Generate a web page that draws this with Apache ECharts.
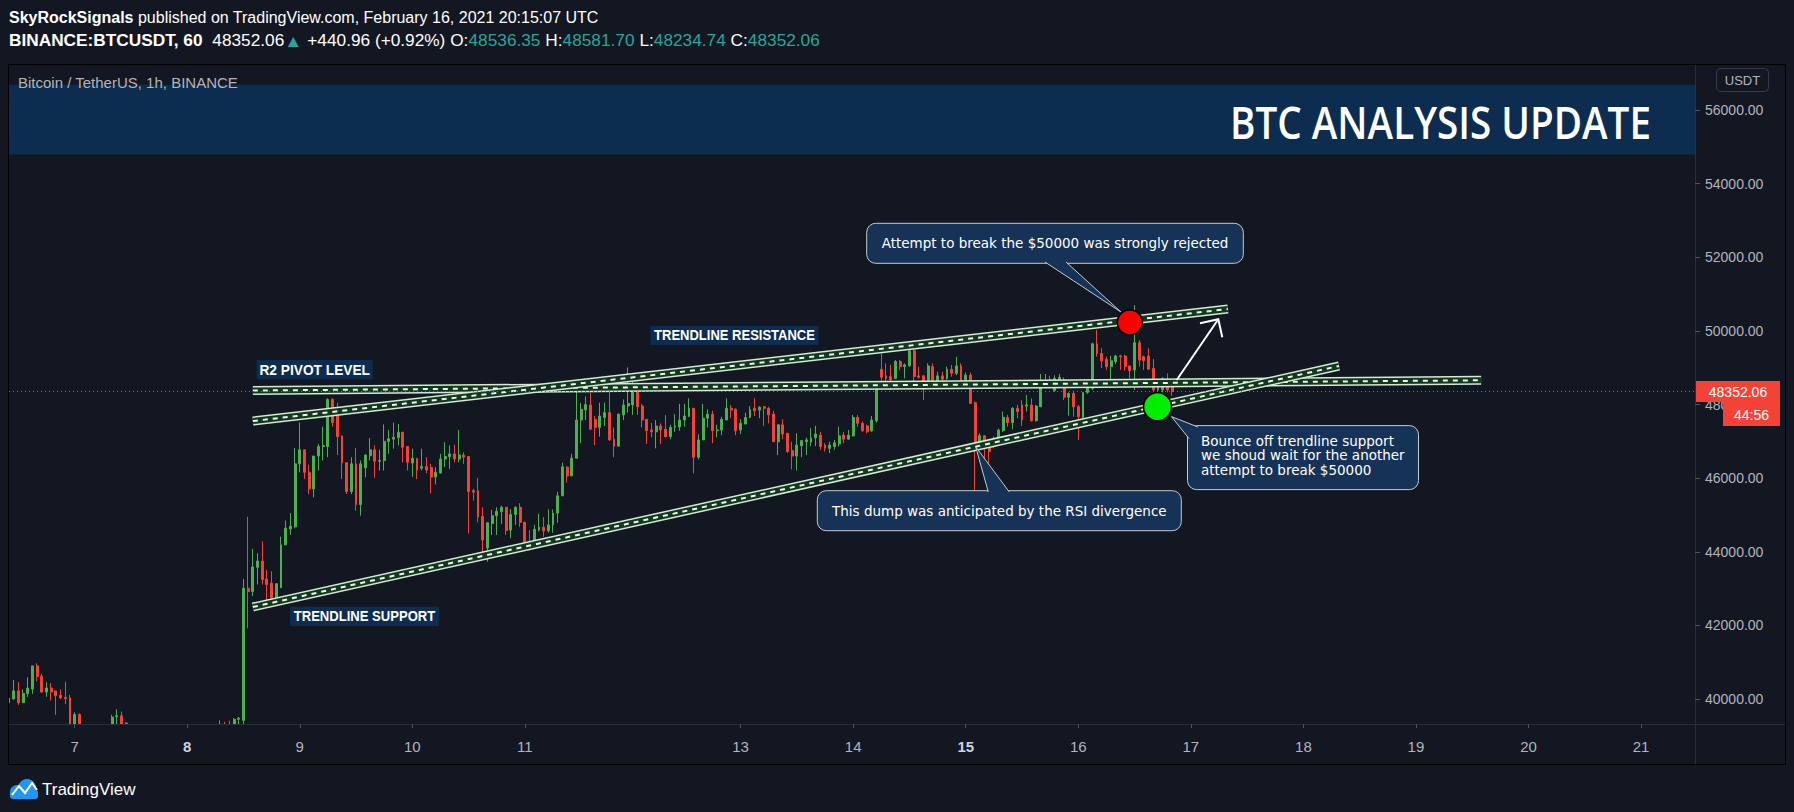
<!DOCTYPE html>
<html><head><meta charset="utf-8">
<script src="https://cdn.jsdelivr.net/npm/echarts@6/dist/echarts.min.js"></script>
<style>html,body{margin:0;padding:0;background:#131722;}#c{width:1794px;height:812px;}</style>
</head><body><div id="c"></div>
<script>
// ---------- DATA ----------
const firstBar = -14; // bar index of first candle (Feb 6 10:00 UTC), bar 0 = Feb 7 00:00
const opens = [
39900,40000,40220,39900,40150,40270,40900,40620,40190,40300,40220,40100,40045,40030,
39200,39580,39150,38900,38700,38850,38600,38900,39150,39520,
39545,39350,38950,38400,37700,38100,38300,38100,38500,38700,
38550,38900,38800,39000,38850,38400,38100,38350,38250,38500,
38700,38900,39100,38950,38850,39450,39420,43010,42920,43580,
43750,43260,43150,42750,43020,44190,44620,44680,46390,46770,
46160,45710,46600,46860,46860,48140,47760,47150,46420,45640,
46390,45280,46280,46610,46770,46460,46480,47000,47060,47100,
47250,46860,46410,46540,46270,46320,46290,46030,46140,46520,
46580,46660,46520,46630,46590,45660,45660,44960,44100,44770,
44980,45090,45210,44590,45010,45210,44800,44270,44260,44590,
44670,44570,44730,45050,45520,46300,46060,46540,47580,47860,
47990,47600,47380,47650,47780,47060,46870,47720,47960,47990,
48500,47960,47600,47310,47260,47420,47330,47130,47390,47390,
47580,47680,47900,46570,47040,47630,47740,47290,47310,47580,
47900,47870,47310,47470,47650,47900,47850,47940,47900,47740,
46990,47450,47220,46750,46600,46880,46990,46980,47100,47170,
46900,46810,46860,46930,47170,47060,47150,47650,47490,47420,
47290,47560,48960,48780,48760,48710,49170,49030,49050,49460,
48780,48780,48560,49030,48620,48780,48710,48960,48850,49050,
48580,48800,48050,46950,47150,46900,46860,47060,47290,47650,
47510,47900,47990,47960,47990,47560,47940,48500,48670,48380,
48620,48670,48200,48300,47940,47650,48330,48440,49650,49390,
49230,49030,49170,49320,49320,49050,48940,49680,49300,49320,
48980,48400,48400,48580,48536.35];
const closes = [
40020,40220,39900,40150,40300,40900,40610,40190,40300,40190,40090,40030,40010,39200,
39580,39150,38900,38700,38850,38600,38900,39150,39510,39545,
39200,38950,38400,37700,38100,38300,38100,38500,38700,38550,
38900,38800,39000,38850,38400,38100,38350,38250,38500,38700,
38900,39100,38950,38850,39450,39480,43010,42920,43590,43750,
43250,43110,42750,43130,44190,44640,44700,46390,46770,46160,
45710,46600,46860,46880,48140,47510,47130,46420,45640,46390,
45280,46390,46630,46770,46460,46480,47000,47070,47110,47250,
46840,46430,46540,46220,46320,46220,46030,46160,46520,46590,
46660,46520,46630,46570,45640,45620,44940,44320,44790,44980,
45100,45210,44580,45010,45210,44800,44210,44210,44610,44670,
44570,44730,45050,45520,46310,46060,46540,47580,47870,48000,
47330,47380,47690,47780,47040,46870,47740,47990,48030,48500,
47940,47580,47290,47260,47420,47310,47130,47380,47420,47580,
47690,47900,46570,47040,47630,47740,47290,47310,47600,47900,
47850,47290,47490,47650,47870,47830,47930,47900,47720,46990,
47450,47200,46720,46600,46900,47020,47040,47100,47200,46860,
46810,46900,46960,47150,47060,47170,47650,47490,47290,47260,
47580,48470,48740,48710,48670,49170,49030,49080,49460,48760,
48740,48560,49050,48620,48780,48690,48960,48850,49050,48580,
48800,48030,46950,47150,46860,46720,47080,47310,47650,47510,
47900,47810,47580,47990,47560,47960,48530,48620,48580,48710,
48740,48200,48300,47940,47670,48330,48490,49650,49390,49190,
49030,49190,49320,49300,49030,48920,49680,49210,49190,48960,
48400,48480,48710,48400,48352.06];
const lows = [
39520,39990,39840,39900,40060,40140,40480,40170,40060,39960,39570,40000,39860,39100,
39050,39000,38750,38550,38600,38450,38500,38800,39050,39150,
39050,38800,38200,37350,37500,37900,37900,38000,38350,38400,
38500,38600,38650,38700,38250,37950,38000,38100,38150,38400,
38600,38800,38850,38700,38800,39100,39200,41920,42800,43110,
43110,42610,42610,42730,43020,44180,44460,44640,46160,45980,
45570,45480,46210,46480,46570,47400,46630,45980,45570,45570,
45120,44980,46020,46480,46010,46210,46210,46660,46800,46890,
46430,46210,46040,45980,46210,46130,45590,45830,46130,46300,
46250,46430,46430,46390,44500,45390,44800,43800,43730,44460,
44460,44760,44460,44370,44730,44680,44030,44030,44230,44550,
44410,44520,44520,44790,45520,45880,46060,46540,46950,47580,
47330,46900,47130,47420,47020,46570,46870,47580,47780,47720,
47720,47380,46930,47110,46810,46930,47110,47060,47260,47290,
47400,47660,46130,46510,47040,47380,46950,47110,47170,47580,
47630,47170,47200,47470,47630,47690,47630,47420,47490,46990,
46630,47060,46690,46240,46210,46570,46630,46870,46870,46770,
46720,46680,46770,46860,46950,47040,47130,47400,47260,47220,
47260,47510,48470,48440,48400,48710,48930,48710,49030,48580,
48710,48120,48530,48580,48580,48580,48670,48760,48800,48490,
48440,48030,45590,46860,46130,46400,46810,46990,47260,47400,
47330,47630,47420,47810,47540,47540,47930,48470,48440,48350,
48580,48120,47700,47670,47040,47620,48290,48400,49300,48990,
48940,48670,49100,48940,48920,48710,48400,49030,48940,48940,
48290,48290,48330,48330,48234.74];
const highs = [
40070,40520,40460,40260,40590,40900,40970,40680,40460,40430,40220,40260,40470,40110,
39640,39610,39250,39050,39000,38950,39050,39280,39570,39720,
39660,39370,39000,38500,38300,38500,38450,38650,38900,38850,
39050,39100,39200,39150,38950,38500,38500,38550,38700,38900,
39100,39420,39380,39410,39480,39510,43260,44950,44080,43960,
44280,43510,43470,43150,44410,44850,45050,46820,47510,46780,
46370,46610,46930,47400,48170,48170,48050,47150,46430,46570,
46820,46480,46640,47090,46890,46770,47460,47310,47510,47470,
47250,46860,46800,46540,46800,46570,46390,46300,46660,46980,
46890,46910,47310,46700,46590,45710,46010,45210,44790,45140,
45210,45250,45210,45160,45230,45320,44820,44590,44730,45030,
44940,45150,45150,45630,46420,46330,46660,48420,48040,48220,
48320,47690,48050,48050,48670,47380,47750,48140,49010,48620,
48510,48020,47600,47500,47580,47490,47720,47450,47740,48020,
48020,48170,47900,47190,48020,47870,47830,47450,47670,48170,
47990,47900,47600,47780,47960,48170,47960,47960,47940,47830,
47450,47600,47220,46990,47220,47020,47100,47360,47420,47260,
46950,46990,47040,47400,47260,47310,47720,47720,47540,47450,
47690,48470,49390,49120,49080,49210,49210,49120,49710,49660,
49030,48800,49120,49120,48890,48890,49030,49080,49300,49120,
48870,48870,48080,47220,47170,46990,47130,47350,47810,47720,
47930,47990,48120,48260,48170,47990,48830,48830,48780,48800,
48830,48740,48330,48380,47990,48330,48670,49680,50030,49530,
49300,49320,49350,49350,49350,49060,50700,49750,49330,49530,
49240,48600,48740,48850,48581.70];

const lastPrice = 48352.06;
const priceChange = '+440.96', priceChangePct = '+0.92%';
const priceTicks = [40000,42000,44000,46000,48000,50000,52000,54000,56000];
const dayStartBars = [0,24,48,72,96,142,166,190,214,238,262,286,310,334];
const dayLabels = ['7','8','9','10','11','13','14','15','16','17','18','19','20','21'];
const weekStartLabels = ['8','15'];
// drawings: [bar index, price]
const trendResistance = [[38,47553],[245.9,50596]];
const trendSupport = [[38,42500],[269.6,49048]];
const r2Pivot = [[38,48382],[299.9,48660]];
const bannerRange = [54794,56691];
const rejectPoint = [225.0,50235];
const bouncePoint = [230.9,47942];
const xRange = [-14, 345.5];
const yRange = [39321, 57226];

// ---------- CHART ----------
const bars = opens.map((o,i)=>[firstBar+i, o, closes[i], lows[i], highs[i]]);
const UP='#4caf50', DOWN='#f44336';
const SANS='"Liberation Sans", Arial, sans-serif';
const VERD='"DejaVu Sans", Verdana, sans-serif';
const mctx = document.createElement('canvas').getContext('2d');
function fit(text, font, target){ mctx.font = font; return target / mctx.measureText(text).width; }

function channel(data){
  return [
    {type:'line', data, symbol:'none', silent:true, z:4, animation:false, lineStyle:{width:9,color:'#d6e8d6'}},
    {type:'line', data, symbol:'none', silent:true, z:4, animation:false, lineStyle:{width:6,color:'#12381d'}},
    {type:'line', data, symbol:'none', silent:true, z:4, animation:false, lineStyle:{width:2,color:'#f0f5f0',type:[5,5]}}
  ];
}
function labelBox(cx, cy, w, h, text, textW){
  const font = 'bold 14px ' + SANS;
  return [
    {type:'rect', z:100, shape:{x:cx-w/2, y:cy-h/2, width:w, height:h}, style:{fill:'#0c2d50'}},
    {type:'text', z:101, x:cx, y:cy, scaleX: fit(text, font, textW), style:{x:0,y:0,text, font, fill:'#ffffff', align:'center', verticalAlign:'middle'}}
  ];
}
function callout(x, y, w, h, tail, lines, tx, ty, lh, align){
  const font = '13.5px ' + VERD;
  const els = [
    {type:'rect', z:100, shape:{x, y, width:w, height:h, r:9}, style:{fill:'#163256', stroke:'#c3cad4', lineWidth:1}},
    {type:'polygon', z:101, shape:{points:tail}, style:{fill:'#163256'}},
    {type:'polyline', z:102, shape:{points:[tail[0], tail[2], tail[1]]}, style:{stroke:'#c3cad4', lineWidth:1, fill:null}}
  ];
  lines.forEach((t,i)=>els.push({type:'text', z:103, x:tx, y:ty+i*lh, style:{x:0,y:0,text:t, font, fill:'#ffffff', align:align||'left', verticalAlign:'middle'}}));
  return els;
}

const n = opens.length - 1;
const header2 = '{b|BINANCE:BTCUSDT, 60}  ' + lastPrice.toFixed(2) + '{t|▲} ' + priceChange + ' (' + priceChangePct + ') O:{g|' + opens[n].toFixed(2) +
  '} H:{g|' + highs[n].toFixed(2) + '} L:{g|' + lows[n].toFixed(2) + '} C:{g|' + closes[n].toFixed(2) + '}';
const header2Plain = 'BINANCE:BTCUSDT, 60  ' + lastPrice.toFixed(2) + '▲ ' + priceChange + ' (' + priceChangePct + ') O:' + opens[n].toFixed(2) +
  ' H:' + highs[n].toFixed(2) + ' L:' + lows[n].toFixed(2) + ' C:' + closes[n].toFixed(2);

const bannerFont = '600 46px "Open Sans", ' + SANS;
const graphics = [
  // masks that clip candles to the price pane
  {type:'rect', z:50, shape:{x:0,y:725,width:1695,height:39}, style:{fill:'#131722'}},
  {type:'rect', z:50, shape:{x:0,y:65,width:8.5,height:660}, style:{fill:'#131722'}},
  // panel frame & scale separators
  {type:'rect', z:90, shape:{x:8.5,y:64.5,width:1777,height:700}, style:{fill:null, stroke:'#000000', lineWidth:1}},
  {type:'line', z:90, shape:{x1:1695.5,y1:65,x2:1695.5,y2:764}, style:{stroke:'#2a2e39', lineWidth:1}},
  {type:'line', z:90, shape:{x1:9,y1:724.5,x2:1785,y2:724.5}, style:{stroke:'#2a2e39', lineWidth:1}},
  // header
  {type:'text', z:100, x:9, y:17, style:{text:'{b|SkyRockSignals} published on TradingView.com, February 16, 2021 20:15:07 UTC',
     fontSize:16, fontFamily:SANS, fill:'#ffffff', verticalAlign:'middle',
     rich:{b:{fontSize:16, fontFamily:SANS, fontWeight:'bold', fill:'#ffffff'}}}},
  {type:'text', z:100, x:9, y:41, scaleX: fit(header2Plain, '16px '+SANS, 806), style:{x:0,y:0,text:header2, fontSize:16, fontFamily:SANS, fill:'#ffffff', verticalAlign:'middle',
     rich:{b:{fontSize:16, fontFamily:SANS, fontWeight:'bold', fill:'#ffffff'}, g:{fontSize:16, fontFamily:SANS, fill:'#26a69a'}, t:{fontSize:17, fontFamily:SANS, fill:'#26a69a'}}}},
  // pane title
  {type:'text', z:100, x:18, y:82, style:{text:'Bitcoin / TetherUS, 1h, BINANCE', font:'15px '+SANS, fill:'#b2b5be', verticalAlign:'middle'}},
  // banner text
  {type:'text', z:100, x:1651, y:121, scaleX: fit('BTC ANALYSIS UPDATE', bannerFont, 421), style:{x:0,y:0,text:'BTC ANALYSIS UPDATE', font:bannerFont, fill:'#ffffff', align:'right', verticalAlign:'middle'}},
  // USDT box
  {type:'rect', z:100, shape:{x:1716.5,y:68.5,width:52,height:23,r:4}, style:{fill:'#131722', stroke:'#363a45', lineWidth:1}},
  {type:'text', z:101, x:1742.5, y:80, style:{text:'USDT', font:'13px '+SANS, fill:'#b2b5be', align:'center', verticalAlign:'middle'}},
  // last price tag + countdown
  {type:'rect', z:100, shape:{x:1696,y:381,width:84,height:21}, style:{fill:DOWN}},
  {type:'text', z:101, x:1738, y:391.5, style:{text:lastPrice.toFixed(2), font:'14px '+SANS, fill:'#ffffff', align:'center', verticalAlign:'middle'}},
  {type:'rect', z:100, shape:{x:1723,y:402,width:57,height:24}, style:{fill:DOWN}},
  {type:'text', z:101, x:1751.5, y:414.5, style:{text:'44:56', font:'14px '+SANS, fill:'#ffffff', align:'center', verticalAlign:'middle'}},
  // labels
  ...labelBox(314.7, 369.7, 116, 19.3, 'R2 PIVOT LEVEL', 110.7),
  ...labelBox(734.5, 335.5, 168, 19, 'TRENDLINE RESISTANCE', 161),
  ...labelBox(364.5, 616.3, 149, 19.3, 'TRENDLINE SUPPORT', 141.7),
  // callouts
  ...callout(866.7, 223.3, 376.6, 40, [[1045,262],[1066,262],[1121,312]], ['Attempt to break the $50000 was strongly rejected'], 1055, 243, 15, 'center'),
  ...callout(817.3, 490.7, 364, 40, [[988.3,492],[1009.3,492],[975.7,446.7]], ['This dump was anticipated by the RSI divergence'], 832, 510.5, 15),
  ...callout(1187.5, 425.6, 231, 64, [[1198,427],[1189,438.6],[1171.5,416.6]], ['Bounce off trendline support','we shoud wait for the another','attempt to break $50000'], 1201, 440.5, 14.8),
  // arrow
  {type:'polyline', z:100, shape:{points:[[1176.7,380],[1218.3,319.3]]}, style:{stroke:'#ffffff', lineWidth:2, fill:null}},
  {type:'polyline', z:100, shape:{points:[[1200,323.3],[1218.3,319.3],[1222.3,337.3]]}, style:{stroke:'#ffffff', lineWidth:2, fill:null}},
  // TradingView logo
  {type:'circle', z:100, shape:{cx:17,cy:792,r:7}, style:{fill:'#2196f3'}},
  {type:'circle', z:100, shape:{cx:27,cy:788,r:9}, style:{fill:'#2196f3'}},
  {type:'rect', z:100, shape:{x:10,y:790,width:28,height:9,r:3}, style:{fill:'#2196f3'}},
  {type:'polyline', z:101, shape:{points:[[12,795],[19,786],[25,793],[32,783],[37,790]]}, style:{stroke:'#ffffff', lineWidth:2, fill:null}},
  {type:'text', z:100, x:42, y:789, style:{text:'TradingView', font:'17px '+SANS, fill:'#ffffff', verticalAlign:'middle'}}
];

const chart = echarts.init(document.getElementById('c'), null, {renderer:'svg', width:1794, height:812});
chart.setOption({
  animation:false,
  backgroundColor:'#131722',
  grid:{left:9, right:99, top:65, bottom:88, containLabel:false, outerBoundsMode:'none'},
  xAxis:{type:'value', z:95, min:xRange[0], max:xRange[1], splitLine:{show:false}, axisLine:{show:false, onZero:false},
    axisTick:{show:true, customValues:dayStartBars, length:4, lineStyle:{color:'#50535e'}},
    axisLabel:{show:true, customValues:dayStartBars, margin:15, color:'#b2b5be', fontSize:15, fontFamily:SANS,
      formatter:(v)=>{const t = dayLabels[dayStartBars.indexOf(Math.round(v))] || ''; return weekStartLabels.includes(t) ? '{b|'+t+'}' : t;},
      rich:{b:{fontWeight:'bold', color:'#d1d4dc', fontSize:15, fontFamily:SANS}}}},
  yAxis:{type:'value', z:95, position:'right', min:yRange[0], max:yRange[1], scale:true, splitLine:{show:false}, axisLine:{show:false, onZero:false},
    axisTick:{show:true, customValues:priceTicks, length:5, lineStyle:{color:'#50535e'}},
    axisLabel:{show:true, customValues:priceTicks, margin:10, color:'#b2b5be', fontSize:14, fontFamily:SANS, formatter:(v)=>v.toFixed(2)}},
  series:[
    {type:'candlestick', data:bars, encode:{x:0, y:[1,2,3,4]}, barWidth:2.4, z:2, silent:true,
      itemStyle:{color:UP, color0:DOWN, borderColor:UP, borderColor0:DOWN, borderWidth:1},
      markArea:{silent:true, z:1, itemStyle:{color:'#0c2d4f'}, data:[[{xAxis:xRange[0], yAxis:bannerRange[0]},{xAxis:xRange[1], yAxis:bannerRange[1]}]]},
      markLine:{silent:true, symbol:['none','none'], label:{show:false}, lineStyle:{color:DOWN, type:[1,3], width:1}, data:[{yAxis:lastPrice}]}},
    ...channel(r2Pivot),
    ...channel(trendResistance),
    ...channel(trendSupport),
    {type:'scatter', data:[rejectPoint], symbolSize:25, z:6, silent:true, itemStyle:{color:'#ff0000', borderColor:'#000', borderWidth:1.5, opacity:1}},
    {type:'scatter', data:[bouncePoint], symbolSize:28, z:6, silent:true, itemStyle:{color:'#00ee00', borderColor:'#000', borderWidth:1.5, opacity:1}}
  ],
  graphic:graphics
});
</script></body></html>
